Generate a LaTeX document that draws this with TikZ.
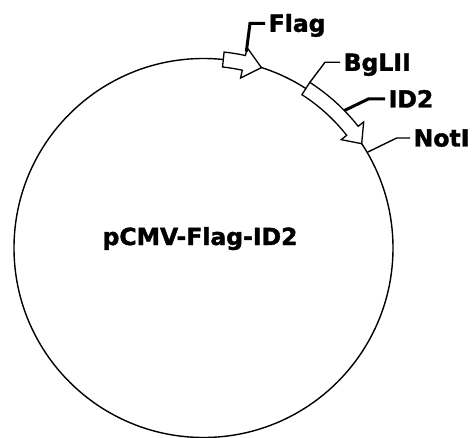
\documentclass[tikz,border=0pt]{standalone}
\usepackage{fontspec}
\setmainfont{DejaVu Sans}
\newfontfamily\mapfont{DejaVu Sans Bold}[FakeBold=1.6]

\begin{document}
\begin{tikzpicture}[x=1pt, y=1pt,
  backbone/.style={line width=1.4pt},
  genearrow/.style={fill=white, draw=black, line width=1.3pt, line join=miter},
  sitelabel/.style={anchor=west, inner xsep=3.5pt, inner ysep=0pt,
    text height=17pt, text depth=0pt,
    font=\mapfont\fontsize{23.5}{23.5}\selectfont},
  thinlead/.style={line width=1.4pt},
  thicklead/.style={line width=3pt}]

  \useasboundingbox (0,0) rectangle (476,437);

  % Plasmid backbone and its name.
  \draw[backbone] (203.5,189) circle[radius=189.5pt];
  \node[font=\mapfont\fontsize{23.5}{23.5}\selectfont, anchor=base] (plasmid)
    at (200,192) {pCMV-Flag-ID2};

  % The two inserts run clockwise along the backbone.
  \begin{scope}[shift={(203.5,189)}]
    \filldraw[genearrow]
      (84:182pt) arc[start angle=84, end angle=77.7, radius=182pt]
      -- (77.7:174pt) -- (72.2:189.5pt) -- (77.7:205pt) -- (77.7:197pt)
      arc[start angle=77.7, end angle=84, radius=197pt] -- cycle;
    \filldraw[genearrow]
      (57.3:182.2pt) arc[start angle=57.3, end angle=38.2, radius=182.2pt]
      -- (38.2:175.2pt) -- (33.4:189.5pt) -- (38.2:203.8pt) -- (38.2:196.8pt)
      arc[start angle=38.2, end angle=57.3, radius=196.8pt] -- cycle;
    % Points where the leaders touch the map.
    \coordinate (flagsite) at (77.7:201pt);
    \coordinate (bglsite) at (57.3:196.8pt);
    \coordinate (idsite) at (44.3:196.8pt);
    \coordinate (notsite) at (30.3:189.5pt);
  \end{scope}

  % Site and insert labels with their leaders.
  \node[sitelabel] (flag) at (265,413.7) {Flag};
  \node[sitelabel] (bglii) at (340,374.7) {BgLII};
  \node[sitelabel] (idtwo) at (385,338) {ID2};
  \node[sitelabel] (noti) at (410,299) {NotI};

  \draw[thicklead] (flagsite) -- ([xshift=-15pt]flag.west) -- (flag.west);
  \draw[thinlead] (bglsite) -- ([xshift=-15pt]bglii.west) -- (bglii.west);
  \draw[thicklead] (idsite) -- ([xshift=-16.7pt]idtwo.west) -- (idtwo.west);
  \draw[thinlead] (notsite) -- ([xshift=-13.3pt]noti.west) -- (noti.west);

\end{tikzpicture}
\end{document}
